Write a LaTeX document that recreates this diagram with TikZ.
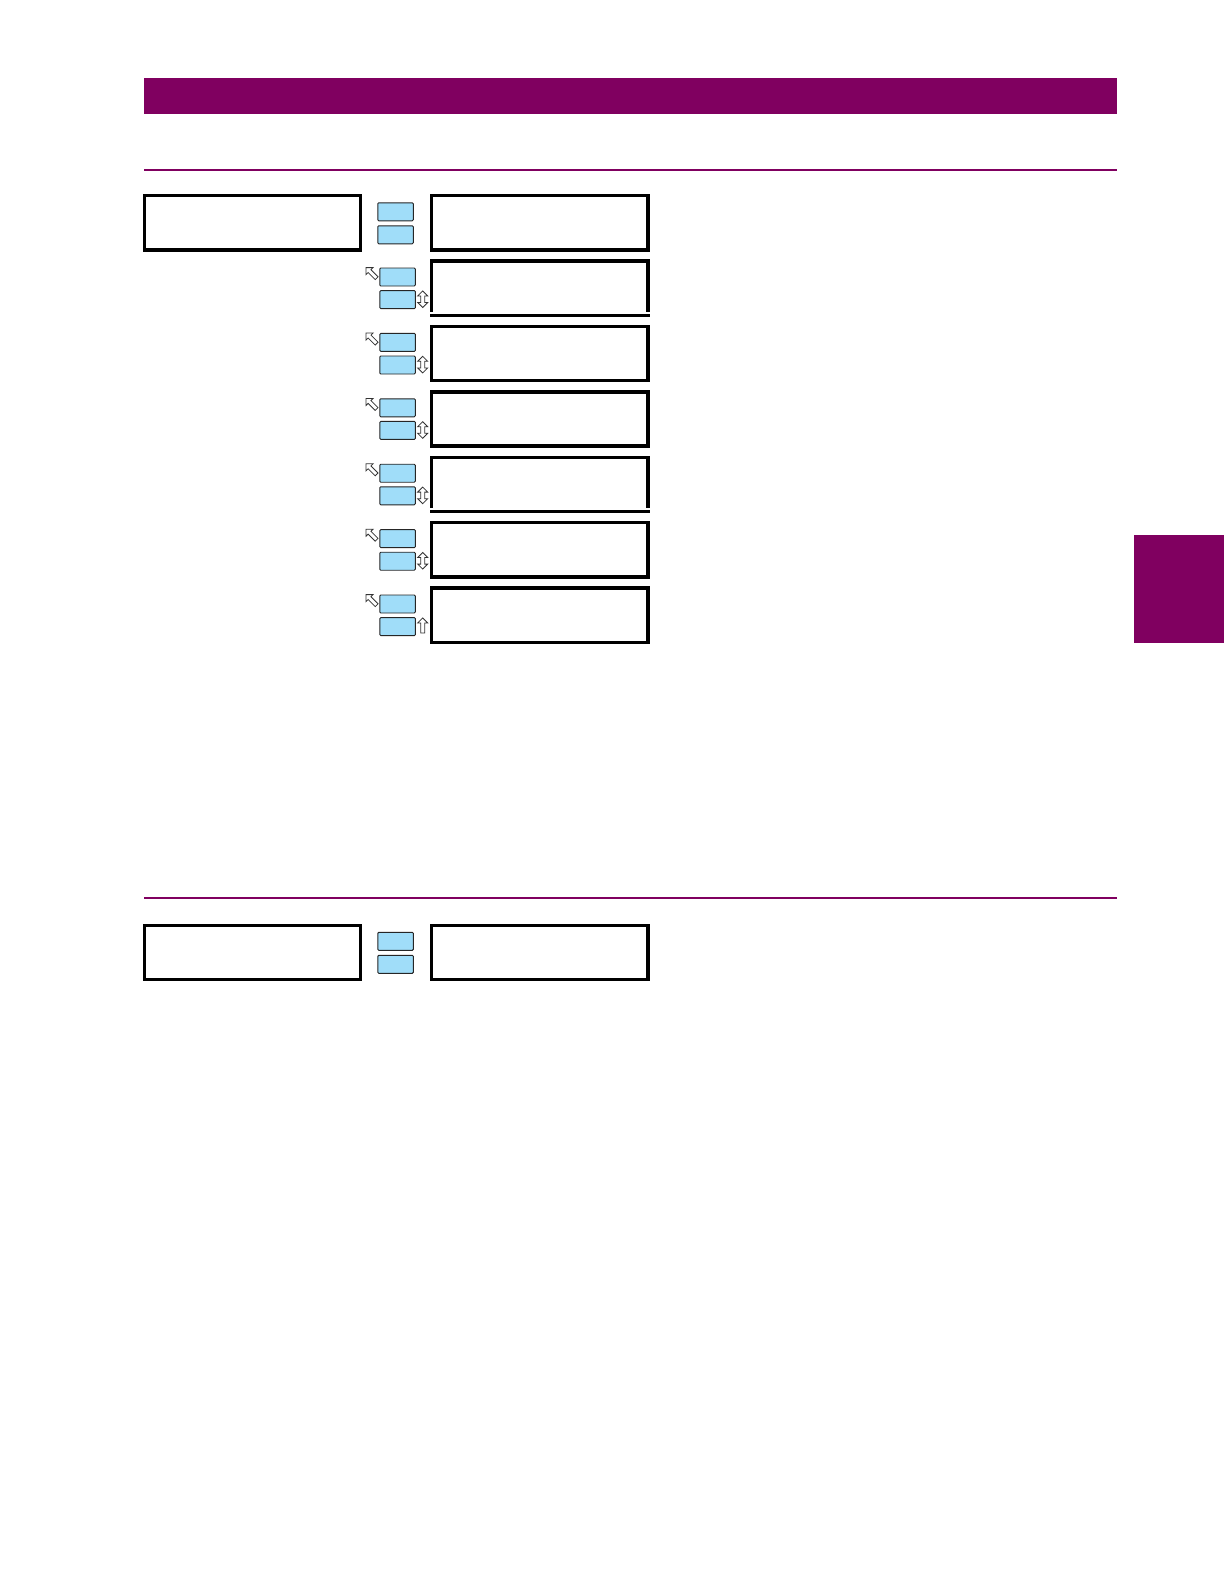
\documentclass[tikz,border=0pt]{standalone}
\definecolor{gepurple}{RGB}{128,0,96}
\definecolor{keyblue}{RGB}{160,221,249}
\begin{document}
\begin{tikzpicture}[x=1pt,y=-1pt,
  disp/.style={draw=black,line width=3.3pt,rectangle,inner sep=0pt,outer sep=0pt,
    minimum width=216.2pt,minimum height=54.2pt,anchor=north west},
  dispopen/.style={disp,draw=none},
  keybox/.style={fill=keyblue,draw=black!85,line width=0.9pt,rounded corners=1pt,
    rectangle,inner sep=0pt,outer sep=0pt,minimum width=35.5pt,minimum height=18pt,anchor=north west},
  purplebar/.style={fill=gepurple,draw=none,rectangle,inner sep=0pt,outer sep=0pt,anchor=north west},
  hollowup/.pic={\draw[fill=white,draw=black!80,line width=0.8pt,line join=miter]
    (0,0) -- (5,5) -- (2,5) -- (2,15) -- (-2,15) -- (-2,5) -- (-5,5) -- cycle;},
  hollowupdown/.pic={\draw[fill=white,draw=black!80,line width=0.8pt,line join=miter]
    (0,0) -- (5,5) -- (2,5) -- (2,11.6) -- (5,11.6) -- (0,16.6) -- (-5,11.6)
    -- (-2,11.6) -- (-2,5) -- (-5,5) -- cycle;}
]
\useasboundingbox (0,0) rectangle (1224,1584);
\fill[white] (0,0) rectangle (1224,1584);

% header bar and rules
\node[purplebar,minimum width=973pt,minimum height=36pt] (header) at (144,78) {};
\coordinate (ruleAL) at (144,170);
\coordinate (ruleAR) at (1117,170);
\draw[gepurple,line width=2pt] (ruleAL) -- (ruleAR);
\coordinate (ruleBL) at (144,898);
\coordinate (ruleBR) at (1117,898);
\draw[gepurple,line width=2pt] (ruleBL) -- (ruleBR);
% side tab
\node[purplebar,minimum width=90pt,minimum height=108pt] (tab) at (1134,535) {};

% first section, row 1
\node[disp] (menu1) at (144.15,195.65) {};
\node[keybox] (k1a) at (377.8,202.8) {};
\node[keybox] (k1b) at (377.8,225.8) {};
\node[disp] (box1) at (431.65,195.65) {};

% rows 2..7
\foreach \i/\open/\last in {2/1/0,3/0/0,4/0/0,5/1/0,6/0/0,7/0/1}{
  \pgfmathsetmacro{\T}{194+65.4*(\i-1)}
  \node[keybox] (k\i a) at (379.8,\T+8.6) {};
  \node[keybox] (k\i b) at (379.8,\T+31.2) {};
  \pic at (366,\T+8.2) [rotate=45] {hollowup};
  \ifnum\last=1
    \pic at (422.7,\T+31.5) {hollowup};
  \else
    \pic at (422.7,\T+31.5) {hollowupdown};
  \fi
  \ifnum\open=1
    \node[dispopen] (box\i) at (431.65,\T+1.65) {};
    \draw[line width=3.3pt,line join=miter]
      ([yshift=3.4pt]box\i.south west) -- (box\i.north west)
      -- (box\i.north east) -- ([yshift=3.4pt]box\i.south east);
    \draw[line width=3.3pt]
      ([xshift=-1.65pt]box\i.south west) -- ([xshift=1.65pt]box\i.south east);
  \else
    \node[disp] (box\i) at (431.65,\T+1.65) {};
  \fi
}

% second section
\node[disp] (menu2) at (144.15,925.15) {};
\node[keybox] (k8a) at (377.8,932.3) {};
\node[keybox] (k8b) at (377.8,955.3) {};
\node[disp] (box8) at (431.65,925.15) {};
\end{tikzpicture}
\end{document}
